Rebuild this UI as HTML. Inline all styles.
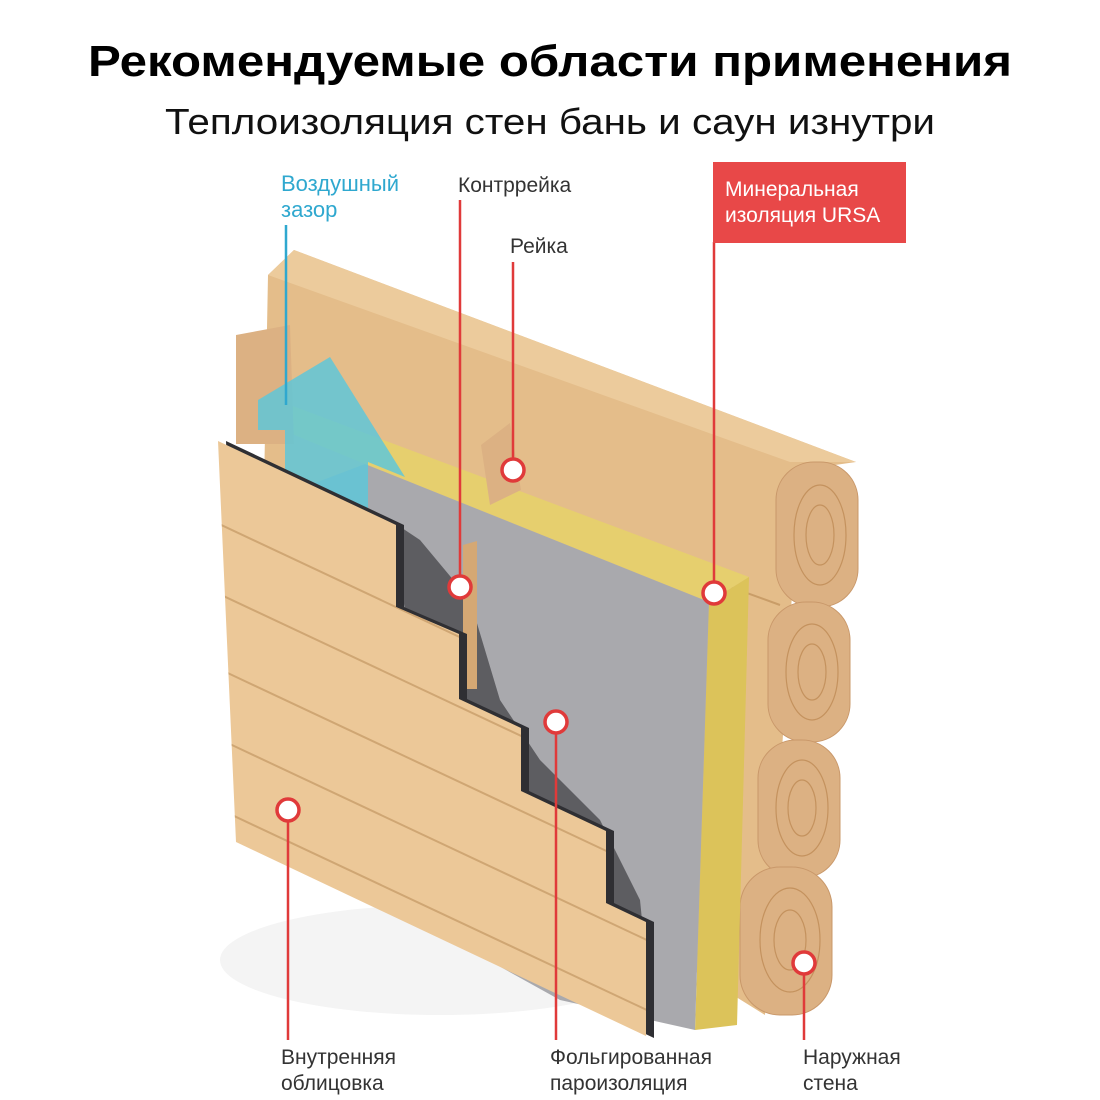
<!DOCTYPE html>
<html><head><meta charset="utf-8"><style>
html,body{margin:0;padding:0;background:#fff;width:1100px;height:1100px;overflow:hidden}
svg{display:block}
text{font-family:"Liberation Sans",sans-serif}
</style></head><body>
<svg width="1100" height="1100" viewBox="0 0 1100 1100" xmlns="http://www.w3.org/2000/svg">
<defs>
<clipPath id="sid"><polygon points="218,441 396,525 396,607 459,634 459,699 521,728 521,791 606,831 606,903 646,922 646,1036 236,842"/></clipPath>
</defs>
<text x="550" y="76" text-anchor="middle" font-size="44" font-weight="bold" fill="#000" textLength="924" lengthAdjust="spacingAndGlyphs">Рекомендуемые области применения</text>
<text x="550" y="134" text-anchor="middle" font-size="36" fill="#111" textLength="770" lengthAdjust="spacingAndGlyphs">Теплоизоляция стен бань и саун изнутри</text>

<ellipse cx="440" cy="960" rx="220" ry="55" fill="#f4f4f4"/>
<polygon points="268,275 294,250 856,462 800,470 765,1015 260,700" fill="#e4bd8a"/>
<polygon points="268,275 294,250 856,462 790,462" fill="#eccb9c"/>
<line x1="268" y1="420" x2="780" y2="605" stroke="#c99d68" stroke-width="2"/>
<g stroke="#c9986a" fill="#dcb183">
<rect x="776" y="462" width="82" height="145" rx="38"/>
<rect x="768" y="602" width="82" height="140" rx="38"/>
<rect x="758" y="740" width="82" height="138" rx="38"/>
<rect x="740" y="867" width="92" height="148" rx="40"/>
</g>
<g fill="none" stroke="#c4925e" stroke-width="1.2">
<ellipse cx="820" cy="535" rx="26" ry="50"/><ellipse cx="820" cy="535" rx="14" ry="30"/>
<ellipse cx="812" cy="672" rx="26" ry="48"/><ellipse cx="812" cy="672" rx="14" ry="28"/>
<ellipse cx="802" cy="808" rx="26" ry="48"/><ellipse cx="802" cy="808" rx="14" ry="28"/>
<ellipse cx="790" cy="940" rx="30" ry="52"/><ellipse cx="790" cy="940" rx="16" ry="30"/>
</g>
<polygon points="258,393 749,577 709,602 365,464 258,420" fill="#e6cf6e"/>
<polygon points="749,577 709,602 695,1030 737,1025" fill="#dcc35a"/>
<polygon points="365,464 709,602 695,1030 560,1000 380,900 300,700 270,500" fill="#a9a9ad"/>
<polygon points="390,520 420,540 470,600 500,700 540,760 600,820 640,900 650,1000 600,1000 560,930 470,820 420,700" fill="#4a4a4e" opacity="0.8"/>
<polygon points="236,335 290,325 294,444 236,444" fill="#dcb183"/>
<polygon points="481,445 510,423 521,490 490,505" fill="#dcb183"/>
<polygon points="463,545 477,541 477,689 463,689" fill="#d5a874"/>
<polygon points="258,400 330,357 405,477 368,462 368,512 285,512 285,430 258,430" fill="#5fc7d8" opacity="0.85"/>
<polygon points="226,441 404,525 404,607 467,634 467,699 529,728 529,791 614,831 614,903 654,922 654,1038 244,845" fill="#2f2f33"/>
<polygon points="218,441 396,525 396,607 459,634 459,699 521,728 521,791 606,831 606,903 646,922 646,1036 236,842" fill="#ecc898"/>
<g clip-path="url(#sid)" stroke="#cfa673" stroke-width="2">
<line x1="200" y1="515" x2="700" y2="750"/>
<line x1="200" y1="585" x2="700" y2="820"/>
<line x1="200" y1="660" x2="700" y2="895"/>
<line x1="200" y1="730" x2="700" y2="965"/>
<line x1="200" y1="800" x2="700" y2="1035"/>
</g>

<g stroke="#e03a3a" stroke-width="2.5">
<line x1="460" y1="200" x2="460" y2="587"/>
<line x1="513" y1="262" x2="513" y2="470"/>
<line x1="714" y1="242" x2="714" y2="593"/>
<line x1="556" y1="722" x2="556" y2="1040"/>
<line x1="288" y1="810" x2="288" y2="1040"/>
<line x1="804" y1="963" x2="804" y2="1040"/>
</g>
<line x1="286" y1="225" x2="286" y2="405" stroke="#2fa8cf" stroke-width="2.5"/>
<g fill="#fff" stroke="#e03a3a" stroke-width="3.5">
<circle cx="460" cy="587" r="11"/><circle cx="513" cy="470" r="11"/><circle cx="714" cy="593" r="11"/>
<circle cx="556" cy="722" r="11"/><circle cx="288" cy="810" r="11"/><circle cx="804" cy="963" r="11"/>
</g>

<rect x="713" y="162" width="193" height="81" fill="#e84848"/>
<g font-size="21" fill="#fff"><text x="725" y="196">Минеральная</text><text x="725" y="222">изоляция URSA</text></g>
<g font-size="22" fill="#2fa8cf"><text x="281" y="191">Воздушный</text><text x="281" y="217">зазор</text></g>
<g font-size="21" fill="#333">
<text x="458" y="192">Контррейка</text>
<text x="510" y="253">Рейка</text>
<text x="281" y="1064">Внутренняя</text><text x="281" y="1090">облицовка</text>
<text x="550" y="1064">Фольгированная</text><text x="550" y="1090">пароизоляция</text>
<text x="803" y="1064">Наружная</text><text x="803" y="1090">стена</text>
</g>
</svg>
</body></html>
